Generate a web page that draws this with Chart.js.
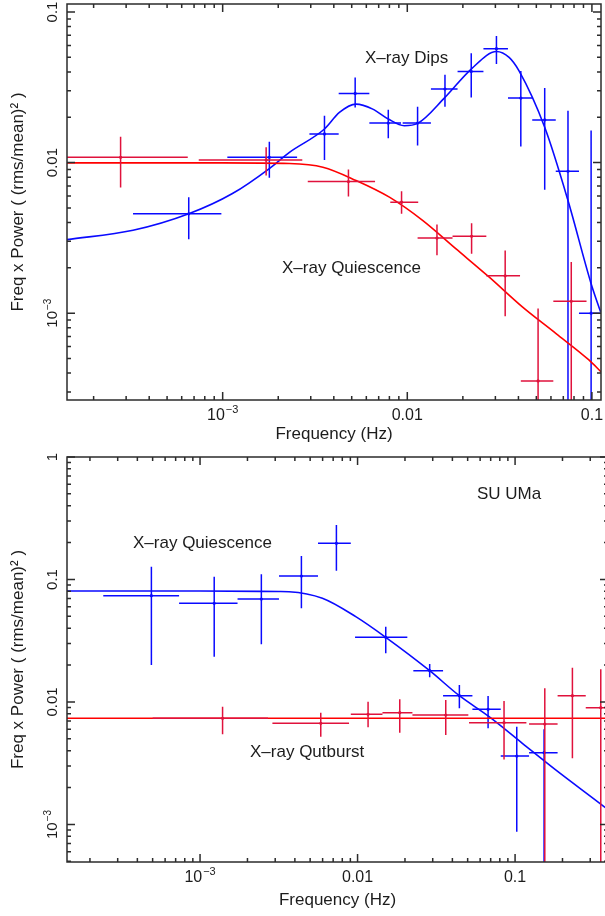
<!DOCTYPE html>
<html>
<head>
<meta charset="utf-8">
<script src="https://cdn.jsdelivr.net/npm/chart.js@4.4.1/dist/chart.umd.min.js"></script>
<style>
html, body { margin: 0; padding: 0; background: #fff; overflow: hidden; width: 605px; height: 916px; }
#wrapTop { position: absolute; left: 0; top: 0; width: 605px; height: 448px; }
#wrapBottom { position: absolute; left: 0; top: 448px; width: 612px; height: 468px; }
</style>
</head>
<body>
<div id="wrapTop"><canvas id="chartTop" width="605" height="448"></canvas></div>
<div id="wrapBottom"><canvas id="chartBottom" width="612" height="468"></canvas></div>
<script>
// each row: [freq, freqLo, freqHi, power, powerLo, powerHi]
const topDipsPoints = [
    [6.55e-4, 3.27e-4, 9.84e-4, 4.57e-3, 3.09e-3, 5.89e-3],
    [1.79e-3, 1.06e-3, 2.53e-3, 1.084e-2, 7.92e-3, 1.377e-2],
    [3.56e-3, 2.95e-3, 4.25e-3, 1.55e-2, 1.04e-2, 2.05e-2],
    [5.22e-3, 4.25e-3, 6.23e-3, 2.88e-2, 2.32e-2, 3.67e-2],
    [7.89e-3, 6.23e-3, 9.25e-3, 1.83e-2, 1.45e-2, 2.24e-2],
    [1.137e-2, 9.44e-3, 1.343e-2, 1.83e-2, 1.30e-2, 2.35e-2],
    [1.60e-2, 1.343e-2, 1.872e-2, 3.08e-2, 2.35e-2, 3.83e-2],
    [2.22e-2, 1.872e-2, 2.585e-2, 4.03e-2, 2.70e-2, 5.32e-2],
    [3.04e-2, 2.585e-2, 3.51e-2, 5.71e-2, 4.51e-2, 6.93e-2],
    [4.12e-2, 3.51e-2, 4.75e-2, 2.68e-2, 1.28e-2, 4.06e-2],
    [5.55e-2, 4.75e-2, 6.37e-2, 1.92e-2, 6.6e-3, 3.13e-2],
    [7.42e-2, 6.37e-2, 8.51e-2, 8.76e-3, 1e-4, 2.21e-2],
    [9.90e-2, 8.51e-2, 0.114, 1.0e-3, 1e-4, 1.63e-2]
];
const topQuiesPoints = [
    [2.80e-4, 1.2e-4, 6.47e-4, 1.084e-2, 6.83e-3, 1.486e-2],
    [1.72e-3, 7.42e-4, 2.70e-3, 1.042e-2, 8.20e-3, 1.263e-2],
    [4.80e-3, 2.89e-3, 6.69e-3, 7.48e-3, 5.96e-3, 8.99e-3],
    [9.31e-3, 8.09e-3, 1.146e-2, 5.46e-3, 4.57e-3, 6.46e-3],
    [1.448e-2, 1.137e-2, 1.758e-2, 3.15e-3, 2.42e-3, 3.88e-3],
    [2.23e-2, 1.758e-2, 2.68e-2, 3.24e-3, 2.48e-3, 3.96e-3],
    [3.39e-2, 2.68e-2, 4.08e-2, 1.77e-3, 9.55e-4, 2.61e-3],
    [5.11e-2, 4.12e-2, 6.18e-2, 3.55e-4, 1e-4, 1.073e-3],
    [7.73e-2, 6.18e-2, 9.35e-2, 1.20e-3, 1e-4, 2.19e-3]
];
const topDipsModelFreq = [1.435e-4, 3.27e-4, 6.55e-4, 1.13e-3, 1.79e-3, 2.30e-3, 3.56e-3, 4.29e-3, 5.28e-3, 6.50e-3, 7.89e-3, 9.63e-3, 1.137e-2, 1.60e-2, 2.22e-2, 3.04e-2, 3.56e-2, 4.03e-2, 5.55e-2, 7.42e-2, 9.90e-2, 0.1114];
const topDipsModelPow = [3.08e-3, 3.55e-3, 4.57e-3, 6.23e-3, 9.13e-3, 1.17e-2, 1.671e-2, 2.153e-2, 2.445e-2, 2.265e-2, 1.946e-2, 1.758e-2, 1.82e-2, 2.71e-2, 4.18e-2, 5.46e-2, 4.99e-2, 4.06e-2, 1.714e-2, 5.60e-3, 1.57e-3, 1.02e-3];
const topQuiesModelFreq = [1.435e-4, 1e-3, 2.30e-3, 3.49e-3, 5.28e-3, 8.0e-3, 1.21e-2, 1.83e-2, 2.77e-2, 4.20e-2, 6.37e-2, 9.63e-2, 0.112];
const topQuiesModelPow = [9.95e-3, 9.95e-3, 9.85e-3, 9.31e-3, 7.60e-3, 5.89e-3, 4.13e-3, 2.68e-3, 1.74e-3, 1.10e-3, 7.34e-4, 4.89e-4, 4.08e-4];

const botQuiesPoints = [
    [4.91e-4, 2.43e-4, 7.36e-4, 7.38e-2, 2.00e-2, 0.127],
    [1.23e-3, 7.36e-4, 1.73e-3, 6.39e-2, 2.34e-2, 0.1054],
    [2.45e-3, 1.73e-3, 3.17e-3, 6.93e-2, 2.96e-2, 0.1102],
    [4.40e-3, 3.17e-3, 5.61e-3, 0.1068, 5.82e-2, 0.1555],
    [7.34e-3, 5.61e-3, 9.06e-3, 0.1975, 0.118, 0.2786],
    [1.51e-2, 9.64e-3, 2.07e-2, 3.37e-2, 2.50e-2, 4.12e-2],
    [2.87e-2, 2.26e-2, 3.49e-2, 1.80e-2, 1.59e-2, 2.04e-2],
    [4.43e-2, 3.49e-2, 5.36e-2, 1.125e-2, 8.89e-3, 1.376e-2],
    [6.74e-2, 5.36e-2, 8.11e-2, 8.71e-3, 6.10e-3, 1.119e-2],
    [0.1025, 8.11e-2, 0.1227, 3.62e-3, 8.72e-4, 6.28e-3],
    [0.1528, 0.1227, 0.1862, 3.86e-3, 1e-4, 6.0e-3]
];
const botOutPoints = [
    [1.39e-3, 5e-4, 2.7e-3, 7.36e-3, 5.45e-3, 9.16e-3],
    [5.84e-3, 2.88e-3, 8.83e-3, 6.70e-3, 5.21e-3, 8.18e-3],
    [1.166e-2, 9.06e-3, 1.439e-2, 7.94e-3, 6.21e-3, 1.005e-2],
    [1.853e-2, 1.439e-2, 2.23e-2, 8.18e-3, 5.61e-3, 1.052e-2],
    [3.63e-2, 2.23e-2, 5.05e-2, 7.83e-3, 5.38e-3, 1.038e-2],
    [8.51e-2, 5.10e-2, 0.118, 6.78e-3, 3.40e-3, 1.02e-2],
    [0.1544, 0.1227, 0.1862, 6.61e-3, 1e-4, 1.294e-2],
    [0.2312, 0.1862, 0.281, 1.125e-2, 3.47e-3, 1.905e-2],
    [0.350, 0.281, 0.43, 8.98e-3, 1e-4, 1.849e-2]
];
const botQuiesModelFreq = [1.43e-4, 1e-3, 3.17e-3, 3.67e-3, 5.98e-3, 9.74e-3, 1.51e-2, 2.87e-2, 4.43e-2, 6.84e-2, 0.1112, 0.1811, 0.367, 0.389];
const botQuiesModelPow = [8.05e-2, 8.05e-2, 7.98e-2, 7.95e-2, 7.03e-2, 4.97e-2, 3.37e-2, 1.80e-2, 1.125e-2, 7.59e-3, 4.60e-3, 2.79e-3, 1.40e-3, 1.32e-3];
const botOutModelFreq = [1.43e-4, 1e-3, 0.01, 0.1, 0.389];
const botOutModelPow = [7.36e-3, 7.36e-3, 7.36e-3, 7.36e-3, 7.36e-3];

const topXTickValues = [1e-3, 0.01, 0.1];
const topXTickLabels = ['10^\u22123', '0.01', '0.1'];
const topYTickValues = [1e-3, 0.01, 0.1];
const topYTickLabels = ['10^\u22123', '0.01', '0.1'];
const botXTickValues = [1e-3, 0.01, 0.1];
const botXTickLabels = ['10^\u22123', '0.01', '0.1'];
const botYTickValues = [1e-3, 0.01, 0.1, 1];
const botYTickLabels = ['10^\u22123', '0.01', '0.1', '1'];

const FONT = '"Liberation Sans", Arial, Helvetica, sans-serif';
const INK = '#1c1c1c';
const BLUE = '#0a0aff';
const RED = '#ff0000';
const RED_BARS = '#e0123c';

// error bars drawn right after their own dataset, through the chart scales
const errorBarPlugin = {
    id: 'errorBars',
    afterDatasetDraw(chart, args) {
        const ds = chart.data.datasets[args.index];
        if (!ds.bars) return;
        const { ctx, chartArea: a, scales: { x, y } } = chart;
        ctx.save();
        ctx.beginPath();
        ctx.rect(a.left, a.top, a.width, a.height);
        ctx.clip();
        ctx.strokeStyle = ds.borderColor;
        ctx.lineWidth = 1.5;
        ctx.beginPath();
        ds.bars.forEach(p => {
            const px = x.getPixelForValue(p[0]);
            const py = y.getPixelForValue(p[3]);
            ctx.moveTo(x.getPixelForValue(p[1]), py);
            ctx.lineTo(x.getPixelForValue(p[2]), py);
            ctx.moveTo(px, y.getPixelForValue(p[4]));
            ctx.lineTo(px, y.getPixelForValue(p[5]));
        });
        ctx.stroke();
        ctx.restore();
    }
};

function logTicks(min, max) {
    const out = [];
    for (let e = Math.floor(Math.log10(min)); e <= Math.ceil(Math.log10(max)); e++) {
        for (let m = 1; m < 10; m++) {
            const v = m * Math.pow(10, e);
            if (v >= min * 0.999 && v <= max * 1.001) out.push({ v, major: m === 1 });
        }
    }
    return out;
}

// label like '10^−3' gets a raised exponent
function drawLabel(ctx, text, cx, baseY, size) {
    const parts = text.split('^');
    ctx.font = size + 'px ' + FONT;
    const wb = ctx.measureText(parts[0]).width;
    let ws = 0;
    const supSize = Math.round(size * 0.68);
    if (parts[1]) {
        ctx.font = supSize + 'px ' + FONT;
        ws = ctx.measureText(parts[1]).width + 1;
    }
    const start = cx - (wb + ws) / 2;
    ctx.textAlign = 'left';
    ctx.textBaseline = 'alphabetic';
    ctx.font = size + 'px ' + FONT;
    ctx.fillText(parts[0], start, baseY);
    if (parts[1]) {
        ctx.font = supSize + 'px ' + FONT;
        ctx.fillText(parts[1], start + wb + 1, baseY - size * 0.42);
    }
}

const framePlugin = {
    id: 'frame',
    afterDraw(chart, args, opts) {
        const { ctx, chartArea: a, scales: { x, y } } = chart;
        ctx.save();
        ctx.strokeStyle = '#2b2b2b';
        ctx.lineWidth = 1.5;
        ctx.strokeRect(a.left, a.top, a.right - a.left, a.bottom - a.top);
        ctx.beginPath();
        logTicks(x.min, x.max).forEach(t => {
            const px = x.getPixelForValue(t.v);
            const len = t.major ? 8 : 4;
            ctx.moveTo(px, a.bottom); ctx.lineTo(px, a.bottom - len);
            ctx.moveTo(px, a.top); ctx.lineTo(px, a.top + len);
        });
        logTicks(y.min, y.max).forEach(t => {
            const py = y.getPixelForValue(t.v);
            const len = t.major ? 8 : 4;
            ctx.moveTo(a.left, py); ctx.lineTo(a.left + len, py);
            ctx.moveTo(a.right, py); ctx.lineTo(a.right - len, py);
        });
        ctx.stroke();

        ctx.fillStyle = INK;
        opts.xValues.forEach((v, i) => {
            drawLabel(ctx, opts.xLabels[i], x.getPixelForValue(v), a.bottom + 20, 16);
        });
        opts.yValues.forEach((v, i) => {
            ctx.save();
            ctx.translate(57, y.getPixelForValue(v));
            ctx.rotate(-Math.PI / 2);
            drawLabel(ctx, opts.yLabels[i], 0, 0, 15);
            ctx.restore();
        });

        ctx.font = '17px ' + FONT;
        ctx.textAlign = 'left';
        ctx.textBaseline = 'alphabetic';
        opts.notes.forEach(n => ctx.fillText(n.text, n.x, n.y));
        ctx.restore();
    }
};

function curve(freq, pow, color, order) {
    return {
        data: freq.map((f, i) => ({ x: f, y: pow[i] })),
        borderColor: color,
        borderWidth: 1.6,
        pointRadius: 0,
        cubicInterpolationMode: 'monotone',
        fill: false,
        order: order
    };
}

function points(rows, color, order) {
    return {
        data: rows.map(r => ({ x: r[0], y: r[3] })),
        bars: rows,
        borderColor: color,
        backgroundColor: color,
        showLine: false,
        pointRadius: 1.6,
        pointBorderWidth: 0,
        order: order
    };
}

function makeChart(id, datasets, range, frameOpts, pad, xHeight, titleBottom) {
    return new Chart(document.getElementById(id).getContext('2d'), {
        type: 'line',
        data: { datasets: datasets },
        plugins: [errorBarPlugin, framePlugin],
        options: {
            responsive: false,
            animation: false,
            parsing: true,
            layout: { padding: pad },
            plugins: {
                legend: { display: false },
                tooltip: { enabled: false },
                frame: frameOpts
            },
            scales: {
                x: {
                    type: 'logarithmic',
                    min: range.xMin,
                    max: range.xMax,
                    ticks: { display: false },
                    grid: { display: false },
                    border: { display: false },
                    title: {
                        display: true,
                        text: 'Frequency (Hz)',
                        color: INK,
                        font: { family: FONT, size: 17 },
                        padding: { top: 0, bottom: titleBottom }
                    },
                    afterFit: s => { s.height = xHeight; }
                },
                y: {
                    type: 'logarithmic',
                    min: range.yMin,
                    max: range.yMax,
                    ticks: { display: false },
                    grid: { display: false },
                    border: { display: false },
                    title: {
                        display: true,
                        text: 'Freq x Power ( (rms/mean)\u00b2 )',
                        color: INK,
                        font: { family: FONT, size: 17 },
                        padding: { top: 8, bottom: 0 }
                    },
                    afterFit: s => { s.width = 67; }
                }
            }
        }
    });
}

makeChart('chartTop', [
    points(topQuiesPoints, RED_BARS, 0),
    curve(topQuiesModelFreq, topQuiesModelPow, RED, 1),
    points(topDipsPoints, BLUE, 2),
    curve(topDipsModelFreq, topDipsModelPow, BLUE, 3)
], { xMin: 1.435e-4, xMax: 0.112, yMin: 2.65e-4, yMax: 0.113 }, {
    xValues: topXTickValues, xLabels: topXTickLabels,
    yValues: topYTickValues, yLabels: topYTickLabels,
    notes: [
        { text: 'X\u2013ray Dips', x: 365, y: 63 },
        { text: 'X\u2013ray Quiescence', x: 282, y: 273 }
    ]
}, { top: 3, right: 3, left: 0, bottom: 0 }, 48, 3);

makeChart('chartBottom', [
    points(botOutPoints, RED_BARS, 0),
    curve(botOutModelFreq, botOutModelPow, RED, 1),
    points(botQuiesPoints, BLUE, 2),
    curve(botQuiesModelFreq, botQuiesModelPow, BLUE, 3)
], { xMin: 1.43e-4, xMax: 0.389, yMin: 4.94e-4, yMax: 1 }, {
    xValues: botXTickValues, xLabels: botXTickLabels,
    yValues: botYTickValues, yLabels: botYTickLabels,
    notes: [
        { text: 'SU UMa', x: 477, y: 51 },
        { text: 'X\u2013ray Quiescence', x: 133, y: 100 },
        { text: 'X\u2013ray Qutburst', x: 250, y: 309 }
    ]
}, { top: 9, right: 3, left: 0, bottom: 0 }, 54, 5);
</script>
</body>
</html>
